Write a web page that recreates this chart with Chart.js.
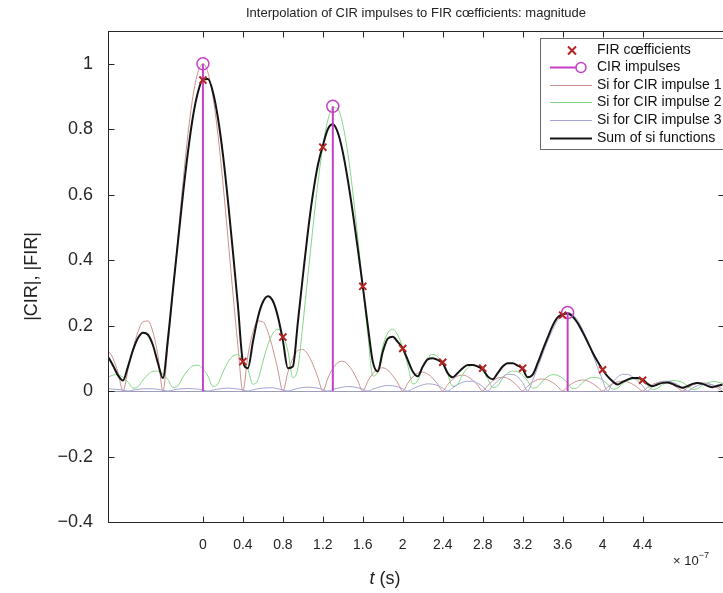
<!DOCTYPE html>
<html>
<head>
<meta charset="utf-8">
<script src="https://cdn.jsdelivr.net/npm/chart.js@4.4.1/dist/chart.umd.min.js"></script>
<style>
html, body { margin: 0; padding: 0; background: #fff; overflow: hidden; }
#wrap { position: relative; width: 731px; height: 593px; }
</style>
</head>
<body>
<div id="wrap"><canvas id="chart" width="731" height="593"></canvas></div>
<script>
// time axis in units of 1e-7 s
const tGrid = [
  -0.95, -0.9, -0.85, -0.8, -0.75, -0.7, -0.65, -0.6, -0.55, -0.5, -0.45, -0.4, -0.35, -0.3, -0.25, -0.2, -0.15, -0.1, -0.05, 0,
  0.05, 0.1, 0.15, 0.2, 0.25, 0.3, 0.35, 0.4, 0.45, 0.5, 0.55, 0.6, 0.65, 0.7, 0.75, 0.8, 0.85, 0.9, 0.95, 1.0,
  1.05, 1.1, 1.15, 1.2, 1.25, 1.3, 1.35, 1.4, 1.45, 1.5, 1.55, 1.6, 1.65, 1.7, 1.75, 1.8, 1.85, 1.9, 1.95, 2.0,
  2.05, 2.1, 2.15, 2.2, 2.25, 2.3, 2.35, 2.4, 2.45, 2.5, 2.55, 2.6, 2.65, 2.7, 2.75, 2.8, 2.85, 2.9, 2.95, 3.0,
  3.05, 3.1, 3.15, 3.2, 3.25, 3.3, 3.35, 3.4, 3.45, 3.5, 3.55, 3.6, 3.65, 3.7, 3.75, 3.8, 3.85, 3.9, 3.95, 4.0,
  4.05, 4.1, 4.15, 4.2, 4.25, 4.3, 4.35, 4.4, 4.45, 4.5, 4.55, 4.6, 4.65, 4.7, 4.75, 4.8, 4.85, 4.9, 4.95, 5.0,
  5.05, 5.1, 5.15, 5.2
];

const sumMag = [
  .105, .078, .048, .032, .075, .125, .162, .178, .172, .140, .085, .04, .16, .31, .455, .60, .73, .838, .913, .952,
  .953, .914, .835, .723, .583, .427, .263, .09, .07, .15, .225, .272, .29, .275, .228, .155, .07, .075, .21, .35,
  .485, .60, .69, .75, .80, .815, .79, .73, .645, .545, .435, .32, .20, .09, .06, .12, .16, .166, .15, .13,
  .095, .06, .045, .075, .097, .10, .095, .085, .055, .042, .055, .07, .08, .08, .075, .067, .045, .036, .055, .075,
  .085, .085, .078, .068, .042, .05, .085, .125, .163, .20, .225, .234, .237, .228, .208, .18, .15, .118, .09, .065,
  .045, .03, .02, .028, .035, .04, .04, .035, .022, .015, .02, .025, .026, .022, .015, .01, .015, .022, .025, .022,
  .016, .012, .016, .02
];

const si1Mag = [
  .124, .100, .057, 0, .065, .129, .181, .212, .214, .180, .108, 0, .139, .300, .470, .637, .784, .900, .974, 1,
  .974, .900, .784, .637, .470, .300, .139, 0, .108, .180, .214, .212, .181, .129, .065, 0, .057, .100, .124, .127,
  .112, .082, .042, 0, .039, .069, .087, .091, .081, .060, .031, 0, .030, .053, .067, .071, .064, .047, .025, 0,
  .024, .043, .055, .058, .052, .039, .021, 0, .020, .036, .046, .049, .044, .033, .018, 0, .017, .031, .040, .042,
  .039, .029, .015, 0, .015, .027, .035, .037, .034, .026, .014, 0, .013, .024, .031, .034, .031, .023, .012, 0,
  .012, .022, .028, .030, .028, .021, .011, 0, .011, .020, .026, .028, .025, .019, .010, 0, .010, .018, .024, .025,
  .023, .018, .009, 0
];

const si2Mag = [
  .042, .049, .050, .042, .028, .009, .013, .034, .050, .060, .061, .052, .035, .011, .016, .043, .064, .077, .079, .068,
  .046, .014, .022, .058, .088, .107, .111, .097, .067, .021, .034, .090, .141, .176, .189, .172, .123, .041, .070, .203,
  .350, .497, .634, .747, .827, .866, .862, .814, .727, .608, .468, .320, .175, .046, .060, .136, .178, .189, .171, .132,
  .079, .022, .031, .074, .102, .112, .105, .083, .051, .015, .021, .051, .071, .079, .075, .061, .038, .011, .016, .039,
  .055, .061, .059, .048, .030, .009, .013, .031, .044, .050, .048, .039, .025, .007, .011, .026, .037, .042, .041, .033,
  .021, .006, .009, .023, .032, .037, .036, .029, .018, .005, .008, .020, .028, .032, .031, .026, .016, .005, .007, .018,
  .025, .029, .028, .023
];

const si3Mag = [
  .007, .006, .005, .003, 0, .003, .005, .007, .007, .007, .005, .003, 0, .003, .006, .007, .008, .007, .006, .003,
  0, .003, .006, .008, .009, .008, .006, .004, 0, .004, .007, .009, .010, .010, .007, .004, 0, .004, .008, .011,
  .012, .011, .009, .005, 0, .005, .009, .012, .014, .013, .010, .006, 0, .006, .011, .015, .017, .016, .013, .007,
  0, .007, .014, .019, .022, .021, .017, .009, 0, .010, .020, .027, .030, .030, .024, .014, 0, .016, .031, .043,
  .051, .051, .043, .026, 0, .033, .072, .113, .153, .188, .216, .234, .240, .234, .216, .188, .153, .113, .072, .033,
  0, .026, .043, .051, .051, .043, .031, .016, 0, .014, .024, .030, .030, .027, .020, .010, 0, .009, .017, .021,
  .022, .019, .014, .007
];

const firT = [0, 0.4, 0.8, 1.2, 1.6, 2, 2.4, 2.8, 3.2, 3.6, 4, 4.4];
const firMag = [0.95, 0.09, 0.165, 0.745, 0.32, 0.13, 0.088, 0.07, 0.07, 0.232, 0.065, 0.033];

const cirT = [0, 1.3, 3.65];
const cirMag = [1.0, 0.87, 0.24];

const xTicks = [0, 0.4, 0.8, 1.2, 1.6, 2, 2.4, 2.8, 3.2, 3.6, 4, 4.4];
const yTicks = [-0.4, -0.2, 0, 0.2, 0.4, 0.6, 0.8, 1];

const FONT = '"Liberation Sans", Arial, Helvetica, sans-serif';
const firColor = '#b52323';
const cirColor = '#c73fc7';
const si1Color = '#cc9090';
const si2Color = '#86d486';
const si3Color = '#a4a4d2';
const sumColor = '#141414';
const baseColor = '#9d9db8';

function pts(xs, ys) {
    return xs.map((x, i) => ({ x: x, y: ys[i] }));
}

function fmtTick(v) {
    const r = Math.round(v * 10) / 10;
    return r < 0 ? '\u2212' + Math.abs(r) : String(r);
}

// stems: vertical segments from 0 to each impulse, broken by gaps
const stemPts = [];
cirT.forEach((t, i) => {
    stemPts.push({ x: t, y: 0 }, { x: t, y: cirMag[i] }, { x: t, y: null });
});

const legendItems = [
    { label: 'FIR c\u0153fficients', kind: 'x', color: firColor },
    { label: 'CIR impulses', kind: 'stem', color: cirColor },
    { label: 'Si for CIR impulse 1', kind: 'line', color: si1Color, w: 1 },
    { label: 'Si for CIR impulse 2', kind: 'line', color: si2Color, w: 1 },
    { label: 'Si for CIR impulse 3', kind: 'line', color: si3Color, w: 1 },
    { label: 'Sum of si functions', kind: 'line', color: sumColor, w: 2 }
];

const decor = {
    id: 'decor',
    beforeDatasetsDraw(chart) {
        const { ctx, chartArea: a, scales: { y } } = chart;
        const y0 = Math.round(y.getPixelForValue(0)) + 0.5;
        ctx.save();
        ctx.strokeStyle = baseColor;
        ctx.lineWidth = 1;
        ctx.beginPath();
        ctx.moveTo(a.left, y0);
        ctx.lineTo(a.right, y0);
        ctx.stroke();
        ctx.restore();
    },
    afterDraw(chart) {
        const { ctx, chartArea: a, scales: { x, y } } = chart;
        ctx.save();

        // axes box and inward ticks
        const L = Math.round(a.left) + 0.5, R = Math.round(a.right) + 0.5;
        const T = Math.round(a.top) + 0.5, B = Math.round(a.bottom) + 0.5;
        ctx.strokeStyle = '#262626';
        ctx.lineWidth = 1;
        ctx.strokeRect(L, T, R - L, B - T);
        ctx.beginPath();
        xTicks.forEach(v => {
            const px = Math.round(x.getPixelForValue(v)) + 0.5;
            ctx.moveTo(px, B); ctx.lineTo(px, B - 6);
            ctx.moveTo(px, T); ctx.lineTo(px, T + 6);
        });
        yTicks.forEach(v => {
            const py = Math.round(y.getPixelForValue(v)) + 0.5;
            ctx.moveTo(L, py); ctx.lineTo(L + 6, py);
            ctx.moveTo(R, py); ctx.lineTo(R - 6, py);
        });
        ctx.stroke();

        // title
        ctx.fillStyle = '#222';
        ctx.textAlign = 'center';
        ctx.textBaseline = 'alphabetic';
        ctx.font = '13px ' + FONT;
        ctx.fillText('Interpolation of CIR impulses to FIR c\u0153fficients: magnitude', 416, 17);

        // y axis title
        ctx.save();
        ctx.translate(32, (a.top + a.bottom) / 2);
        ctx.rotate(-Math.PI / 2);
        ctx.font = '18px ' + FONT;
        ctx.textBaseline = 'middle';
        ctx.fillText('|CIR|, |FIR|', 0, 0);
        ctx.restore();

        // x axis title: italic t followed by (s)
        ctx.textAlign = 'left';
        ctx.font = 'italic 18px ' + FONT;
        const wT = ctx.measureText('t').width;
        ctx.font = '18px ' + FONT;
        const wS = ctx.measureText(' (s)').width;
        const x0 = 385 - (wT + wS) / 2;
        ctx.font = 'italic 18px ' + FONT;
        ctx.fillText('t', x0, 584);
        ctx.font = '18px ' + FONT;
        ctx.fillText(' (s)', x0 + wT, 584);

        // exponent
        ctx.font = '13px ' + FONT;
        ctx.fillText('\u00d7 10', 673, 565);
        const wE = ctx.measureText('\u00d7 10').width;
        ctx.font = '9px ' + FONT;
        ctx.fillText('\u22127', 673 + wE, 558);

        // legend
        const bx = 540.5, by = 38.5, bw = 200, bh = 111;
        ctx.fillStyle = '#fff';
        ctx.fillRect(bx, by, bw, bh);
        ctx.strokeStyle = '#6a6a6a';
        ctx.strokeRect(bx, by, bw, bh);
        ctx.font = '14px ' + FONT;
        ctx.textBaseline = 'middle';
        legendItems.forEach((it, i) => {
            const ry = Math.round(by + 11 + i * 17.6) + 0.5;
            ctx.strokeStyle = it.color;
            if (it.kind === 'x') {
                ctx.lineWidth = 2;
                const cx = 572, s = 4;
                ctx.beginPath();
                ctx.moveTo(cx - s, ry - s); ctx.lineTo(cx + s, ry + s);
                ctx.moveTo(cx - s, ry + s); ctx.lineTo(cx + s, ry - s);
                ctx.stroke();
            } else if (it.kind === 'stem') {
                ctx.lineWidth = 2;
                ctx.beginPath();
                ctx.moveTo(550, ry); ctx.lineTo(576, ry);
                ctx.stroke();
                ctx.lineWidth = 1.5;
                ctx.beginPath();
                ctx.arc(581, ry, 5, 0, Math.PI * 2);
                ctx.stroke();
            } else {
                ctx.lineWidth = it.w;
                ctx.beginPath();
                ctx.moveTo(550, ry); ctx.lineTo(592, ry);
                ctx.stroke();
            }
            ctx.fillStyle = '#111';
            ctx.fillText(it.label, 597, ry);
        });

        ctx.restore();
    }
};

const lineDefaults = { showLine: true, pointRadius: 0, fill: false, cubicInterpolationMode: 'monotone' };

new Chart(document.getElementById('chart'), {
    type: 'scatter',
    data: {
        datasets: [
            {
                label: 'FIR cœfficients',
                data: pts(firT, firMag),
                pointStyle: 'crossRot',
                pointRadius: 5,
                borderWidth: 2,
                borderColor: firColor,
                backgroundColor: firColor
            },
            {
                label: 'CIR impulse tops',
                data: pts(cirT, cirMag),
                pointStyle: 'circle',
                pointRadius: 6,
                borderWidth: 1.5,
                borderColor: cirColor,
                backgroundColor: 'rgba(0,0,0,0)'
            },
            {
                label: 'CIR impulses',
                data: stemPts,
                showLine: true,
                spanGaps: false,
                pointRadius: 0,
                borderWidth: 2,
                borderColor: cirColor
            },
            Object.assign({ label: 'Sum of si functions', data: pts(tGrid, sumMag), borderColor: sumColor, borderWidth: 2 }, lineDefaults),
            Object.assign({ label: 'Si for CIR impulse 3', data: pts(tGrid, si3Mag), borderColor: si3Color, borderWidth: 1 }, lineDefaults),
            Object.assign({ label: 'Si for CIR impulse 2', data: pts(tGrid, si2Mag), borderColor: si2Color, borderWidth: 1 }, lineDefaults),
            Object.assign({ label: 'Si for CIR impulse 1', data: pts(tGrid, si1Mag), borderColor: si1Color, borderWidth: 1 }, lineDefaults)
        ]
    },
    options: {
        responsive: false,
        animation: false,
        devicePixelRatio: 1,
        layout: { padding: { top: 31, right: 2, left: 0, bottom: 0 } },
        plugins: {
            legend: { display: false },
            title: { display: false },
            tooltip: { enabled: false }
        },
        scales: {
            x: {
                type: 'linear',
                min: -0.95,
                max: 5.21,
                grid: { display: false, drawTicks: false },
                border: { display: false },
                afterBuildTicks: s => { s.ticks = xTicks.map(v => ({ value: v })); },
                afterFit: s => { s.height = 71; },
                ticks: {
                    padding: 15,
                    autoSkip: false,
                    maxRotation: 0,
                    color: '#262626',
                    font: { family: FONT, size: 14 },
                    callback: v => fmtTick(v)
                }
            },
            y: {
                type: 'linear',
                min: -0.4,
                max: 1.1,
                grid: { display: false, drawTicks: false },
                border: { display: false },
                afterBuildTicks: s => { s.ticks = yTicks.map(v => ({ value: v })); },
                afterFit: s => { s.width = 108; },
                ticks: {
                    padding: 15,
                    color: '#262626',
                    font: { family: FONT, size: 18 },
                    callback: v => fmtTick(v)
                }
            }
        }
    },
    plugins: [decor]
});
</script>
</body>
</html>
